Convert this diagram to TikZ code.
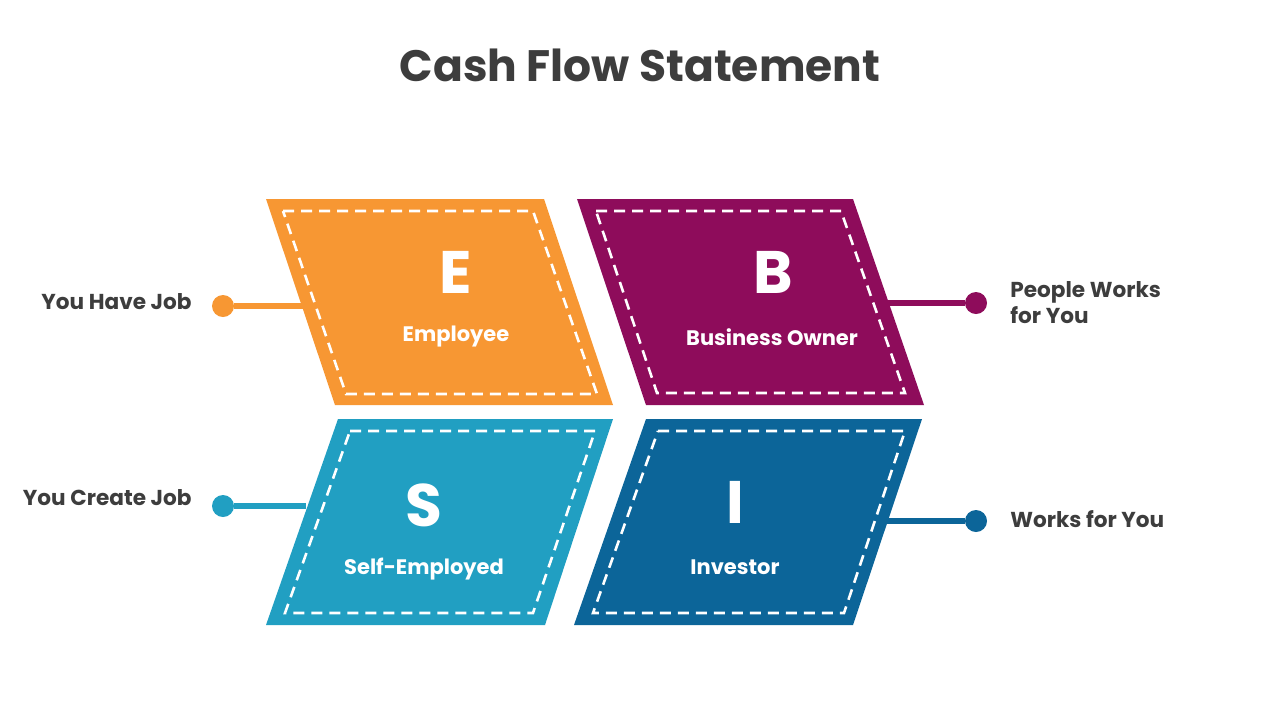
\documentclass[tikz,border=0pt]{standalone}
\usepackage{fontspec}
\setmainfont{Poppins}

\definecolor{empOrange}{RGB}{247,151,51}
\definecolor{bizPurple}{RGB}{142,12,91}
\definecolor{selfCyan}{RGB}{33,159,194}
\definecolor{invBlue}{RGB}{12,101,153}
\definecolor{inkGray}{RGB}{61,61,61}

\tikzset{
  stitch/.style={draw=white, line width=1.3pt, dash pattern=on 5.5pt off 3.5pt},
  bigletter/.style={text=white, font=\fontsize{30}{36}\selectfont\bfseries},
  tagline/.style={text=white, font=\fontsize{10.5}{13}\selectfont\bfseries},
  sidenote/.style={text=inkGray, font=\fontsize{10.8}{13}\selectfont\bfseries, align=left, inner sep=0pt},
  pin/.style={circle, inner sep=0pt, minimum size=11pt},
  stem/.style={line width=2.8pt}
}

\begin{document}
\begin{tikzpicture}[x=0.5pt,y=0.5pt,yscale=-1,xscale=1]

\useasboundingbox (0,0) rectangle (1280,720);

% --- 1. title ---
\node [text=inkGray, font=\fontsize{22}{26}\selectfont\bfseries] (title) at (640,65) {Cash Flow Statement};

% --- 2. connectors (drawn first, under the shapes) ---
\node [pin, fill=empOrange] (ejob) at (223,306) {};
\coordinate (eside) at (304,306);
\draw [stem, empOrange] (ejob) -- (eside);

\node [pin, fill=selfCyan] (sjob) at (223,506) {};
\coordinate (sside) at (306,506);
\draw [stem, selfCyan] (sjob) -- (sside);

\node [pin, fill=bizPurple] (bjob) at (976,303) {};
\coordinate (bside) at (887,303);
\draw [stem, bizPurple] (bside) -- (bjob);

\node [pin, fill=invBlue] (ijob) at (976,521) {};
\coordinate (iside) at (886,521);
\draw [stem, invBlue] (iside) -- (ijob);

% --- 3. the four parallelograms with stitched borders ---
\fill [empOrange] (266,199) -- (544,199) -- (613,405) -- (335,405) -- cycle;
\draw [stitch] (283,211) -- (533,211) -- (597,394) -- (346,394) -- cycle;

\fill [bizPurple] (577,199) -- (853,199) -- (924,405) -- (646,405) -- cycle;
\draw [stitch] (596,211) -- (841,211) -- (905,393) -- (657,393) -- cycle;

\fill [selfCyan] (338,419) -- (613,419) -- (545,625) -- (266,625) -- cycle;
\draw [stitch] (350,431) -- (595,431) -- (533,613) -- (285,613) -- cycle;

\fill [invBlue] (646,419) -- (922,419) -- (853,625) -- (574,625) -- cycle;
\draw [stitch] (658,431) -- (905,431) -- (844,613) -- (593,613) -- cycle;

% --- 4. letters and names ---
\node [bigletter] (eletter) at (456,272) {E};
\node [tagline] (ename) at (456,337) {Employee};

\node [bigletter] (bletter) at (773,272) {B};
\node [tagline] (bname) at (772,337) {Business Owner};

\node [bigletter] (sletter) at (424,505) {S};
\node [tagline] (sname) at (424,569) {Self-Employed};

\node [bigletter] (iletter) at (735,502) {I};
\node [tagline] (iname) at (735,567) {Investor};

% --- 5. side notes ---
\node [sidenote, anchor=east] (havejob) at (192,302) {You Have Job};
\node [sidenote, anchor=east] (createjob) at (192,498) {You Create Job};
\node [sidenote, anchor=west] (peoplework) at (1010,303) {People Works\\for You};
\node [sidenote, anchor=west] (workyou) at (1010,519) {Works for You};

\end{tikzpicture}
\end{document}
